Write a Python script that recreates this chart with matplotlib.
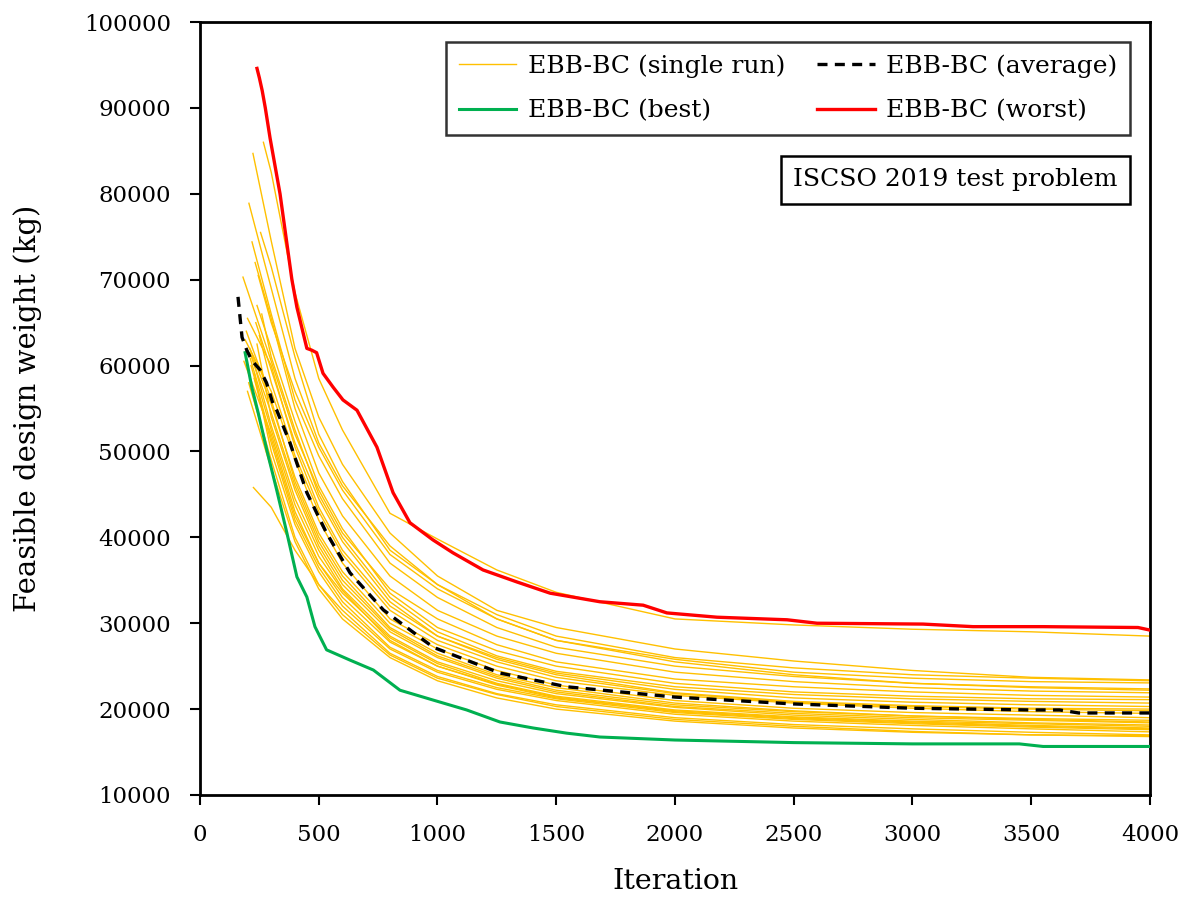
import matplotlib
matplotlib.use("Agg")
import matplotlib.pyplot as plt

# iteration grid shared by the single runs (after each run's own start point)
GRID = [300, 400, 500, 600, 800, 1000, 1250, 1500, 2000, 2500, 3000, 3500, 4000]

# single runs: (start iteration, start weight, weights on GRID)
RUNS = [
    (267, 86000, [82500, 68500, 58500, 52500, 42800, 39800, 36200, 33600, 30500, 29800, 29300, 29000, 28500]),
    (223, 84700, [74500, 62000, 54000, 48500, 40500, 35500, 31500, 29500, 27000, 25600, 24500, 23700, 23400]),
    (206, 78900, [69000, 58500, 51000, 46000, 39000, 34500, 30500, 28000, 25800, 24300, 23600, 23200, 23050]),
    (219, 74400, [66000, 56000, 49500, 44500, 37000, 33000, 29500, 27200, 25000, 23800, 23000, 22600, 22350]),
    (232, 72000, [65500, 55000, 47500, 42500, 35500, 31500, 28500, 26500, 24300, 23200, 22500, 22100, 21900]),
    (181, 70300, [60500, 52000, 45500, 40500, 34000, 30500, 27500, 25500, 23500, 22600, 22000, 21600, 21400]),
    (240, 67000, [62000, 53500, 46000, 41000, 33500, 29500, 26800, 25000, 23000, 22000, 21500, 21200, 21100]),
    (200, 65500, [60000, 50500, 43500, 38500, 32000, 28500, 26000, 24200, 22300, 21300, 20800, 20500, 20300]),
    (190, 63000, [57000, 49000, 42000, 37000, 30500, 27500, 25000, 23300, 21600, 20700, 20100, 19700, 19500]),
    (210, 62000, [55500, 47000, 40500, 36000, 30000, 27000, 24500, 22800, 21000, 20100, 19600, 19300, 19000]),
    (195, 64000, [56000, 46500, 40000, 35500, 29500, 26500, 24000, 22500, 20700, 19800, 19200, 18800, 18500]),
    (220, 61000, [53000, 44500, 38500, 34000, 28500, 25500, 23300, 21800, 20200, 19300, 18800, 18400, 18150]),
    (185, 60500, [52000, 43000, 37000, 33000, 27800, 25000, 22800, 21300, 19800, 19000, 18500, 18100, 17800]),
    (230, 59000, [50000, 41500, 36000, 32000, 27000, 24300, 22300, 21000, 19400, 18600, 18100, 17700, 17350]),
    (225, 45800, [43500, 38500, 34500, 31500, 26500, 23800, 21800, 20500, 19000, 18200, 17700, 17300, 17000]),
    (205, 58000, [49000, 40000, 34500, 31000, 26300, 23600, 21700, 20300, 18800, 18000, 17400, 17000, 16800]),
    (250, 63500, [58000, 49500, 43000, 38000, 31500, 28000, 25500, 23700, 21800, 20800, 20300, 20000, 19800]),
    (260, 66000, [61000, 52500, 45000, 40000, 33000, 29000, 26200, 24400, 22600, 21700, 21200, 20900, 20700]),
    (215, 60000, [51500, 42500, 37000, 33500, 28300, 25300, 23000, 21500, 19900, 19100, 18600, 18300, 18000]),
    (240, 62500, [54000, 45500, 39000, 34500, 29000, 26000, 23600, 22000, 20300, 19500, 19000, 18700, 18400]),
    (200, 57000, [48000, 39500, 34000, 30500, 26000, 23300, 21300, 20000, 18600, 17800, 17300, 17000, 16900]),
    (235, 65000, [59500, 51000, 44500, 39500, 32500, 28500, 25800, 24000, 21900, 20900, 20400, 20100, 20000]),
    (210, 61500, [54500, 46000, 39500, 35000, 29300, 26200, 23800, 22200, 20500, 19700, 19200, 18900, 18700]),
    (245, 70500, [65000, 57000, 50500, 45500, 38000, 34000, 30500, 28000, 25500, 24000, 23000, 22500, 22200]),
    (255, 75500, [71500, 61000, 52000, 46500, 38500, 34500, 31000, 28500, 26000, 24800, 24000, 23600, 23300]),
    (228, 58500, [51000, 42000, 36500, 32500, 27200, 24500, 22500, 21200, 19600, 18800, 18300, 17900, 17600]),
    (212, 60800, [52500, 43800, 37800, 33800, 28000, 25000, 22900, 21400, 19700, 18900, 18400, 18000, 17700]),
]

avg_it = [160, 177, 197, 218, 253, 280, 307, 323, 379, 450, 533, 632, 772, 982, 1263, 1544,
          2000, 2500, 3000, 3500, 3620, 3700, 4000]
avg_w = [68000, 63300, 61800, 60600, 59500, 58000, 55600, 54800, 51000, 45200, 40500, 35850,
         31550, 27200, 24200, 22600, 21400, 20600, 20100, 19900, 19900, 19550, 19550]

best_it = [190, 218, 245, 281, 323, 366, 408, 450, 484, 533, 632, 730, 842, 982, 1123, 1263,
           1403, 1544, 1684, 2000, 2500, 3000, 3450, 3550, 4000]
best_w = [61500, 57500, 54500, 50200, 45500, 40500, 35400, 33050, 29600, 26900, 25700, 24550,
          22200, 21050, 19900, 18500, 17800, 17200, 16750, 16400, 16100, 15950, 15950, 15650, 15650]

worst_it = [240, 250, 262, 275, 295, 337, 387, 408, 450, 470, 491, 518, 560, 602, 661, 745, 813,
            884, 981, 1065, 1192, 1335, 1474, 1684, 1866, 1966, 2177, 2472, 2598, 3044, 3255,
            3549, 3950, 4000]
worst_w = [94600, 93500, 92000, 90000, 86500, 80000, 70000, 66800, 62000, 61800, 61500, 59100,
           57500, 56000, 54800, 50500, 45200, 41700, 39700, 38200, 36200, 34800, 33500, 32500,
           32100, 31200, 30700, 30400, 30000, 29900, 29600, 29600, 29500, 29200]

plt.rcParams["font.family"] = ["DejaVu Serif"]

fig = plt.figure(figsize=(11.94, 9.07), dpi=100)
ax = fig.add_axes([0.1675, 0.1235, 0.7956, 0.8522])

for i, (x0, y0, ws) in enumerate(RUNS):
    ax.plot([x0] + GRID, [y0] + ws, color="#FFC000", lw=1.0,
            label="EBB-BC (single run)" if i == 0 else None, zorder=2)

ax.plot(best_it, best_w, color="#00B050", lw=2.2, label="EBB-BC (best)", zorder=3)
ax.plot(avg_it, avg_w, color="black", lw=2.4, ls=(0, (3, 2.2)), label="EBB-BC (average)", zorder=4)
ax.plot(worst_it, worst_w, color="#FF0000", lw=2.4, label="EBB-BC (worst)", zorder=4)

ax.set_xlim(0, 4000)
ax.set_ylim(10000, 100000)
ax.set_xticks(range(0, 4001, 500))
ax.set_yticks(range(10000, 100001, 10000))
ax.tick_params(direction="out", length=7, width=1.5, labelsize=16.5)
ax.tick_params(axis="y", pad=14)
ax.tick_params(axis="x", pad=14)
for s in ax.spines.values():
    s.set_linewidth(2)

ax.set_xlabel("Iteration", fontsize=20.5, labelpad=16)
ax.set_ylabel("Feasible design weight (kg)", fontsize=21, labelpad=30)

handles, labels = ax.get_legend_handles_labels()
leg = ax.legend(handles, labels, ncol=2, loc="upper right", bbox_to_anchor=(0.979, 0.974),
                borderaxespad=0, fontsize=18, frameon=True, fancybox=False, edgecolor="black",
                handlelength=2.3, handletextpad=0.45, columnspacing=1.3, labelspacing=0.85,
                borderpad=0.5)
leg.get_frame().set_linewidth(1.8)

ax.text(0.966, 0.796, "ISCSO 2019 test problem", transform=ax.transAxes, ha="right", va="center",
        fontsize=18, bbox=dict(boxstyle="square,pad=0.5", fc="white", ec="black", lw=1.8), zorder=6)

fig.savefig("out.png", dpi=100)
